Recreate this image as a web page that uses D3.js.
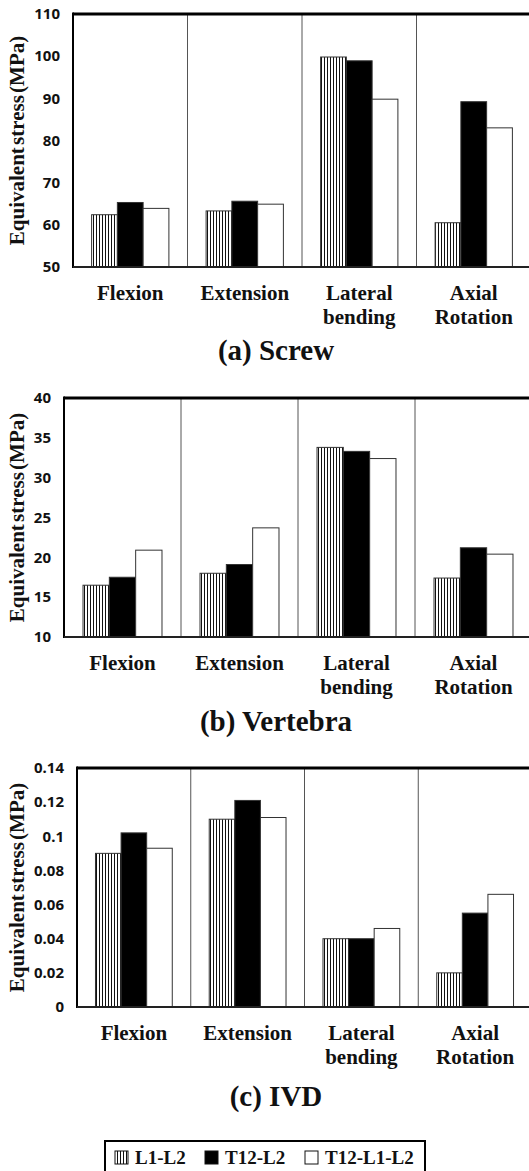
<!DOCTYPE html>
<html>
<head>
<meta charset="utf-8">
<script src="https://cdn.jsdelivr.net/npm/d3@7"></script>
</head>
<body style="margin:0;background:#fff">
<div id="root"></div>
<script>
// data
const categories = [['Flexion'], ['Extension'], ['Lateral', 'bending'], ['Axial', 'Rotation']]
const seriesNames = ['L1-L2', 'T12-L2', 'T12-L1-L2']

const screwL1L2 = [62.4, 63.3, 99.8, 60.5]
const screwT12L2 = [65.3, 65.6, 98.9, 89.2]
const screwT12L1L2 = [63.9, 64.9, 89.8, 83.0]

const vertL1L2 = [16.5, 18.0, 33.8, 17.4]
const vertT12L2 = [17.5, 19.1, 33.3, 21.2]
const vertT12L1L2 = [20.9, 23.7, 32.4, 20.4]

const ivdL1L2 = [0.090, 0.110, 0.040, 0.020]
const ivdT12L2 = [0.102, 0.121, 0.040, 0.055]
const ivdT12L1L2 = [0.093, 0.111, 0.046, 0.066]

const screwTicks = [50, 60, 70, 80, 90, 100, 110]
const vertTicks = [10, 15, 20, 25, 30, 35, 40]
const ivdTicks = [0, 0.02, 0.04, 0.06, 0.08, 0.1, 0.12, 0.14]

const w = 529
const h = 1171
const SERIF = "'Liberation Serif', 'DejaVu Serif', serif"
const SANS = "'Noto Sans', 'DejaVu Sans', sans-serif"

const panels = [
  { title: '(a) Screw', series: [screwL1L2, screwT12L2, screwT12L1L2], ticks: screwTicks,
    left: 73, right: 531, top: 14, bottom: 267, titleY: 360 },
  { title: '(b) Vertebra', series: [vertL1L2, vertT12L2, vertT12L1L2], ticks: vertTicks,
    left: 64, right: 532, top: 398, bottom: 637, titleY: 731 },
  { title: '(c) IVD', series: [ivdL1L2, ivdT12L2, ivdT12L1L2], ticks: ivdTicks,
    left: 77, right: 532, top: 768, bottom: 1007, titleY: 1106 }
]

const svg = d3.select('#root')
              .append('svg')
              .attr('width', w)
              .attr('height', h)
              .style('display', 'block')

// vertical hatch for L1-L2
const defs = svg.append('defs')
const pat = defs.append('pattern')
                .attr('id', 'vhatch')
                .attr('patternUnits', 'userSpaceOnUse')
                .attr('width', 3)
                .attr('height', 10)
pat.append('rect').attr('width', 3).attr('height', 10).attr('fill', '#fff')
pat.append('line').attr('x1', 0.5).attr('x2', 0.5).attr('y1', 0).attr('y2', 10)
   .attr('stroke', '#111').attr('stroke-width', 1)

const fills = ['url(#vhatch)', '#000', '#fff']

panels.forEach(p => {
  const g = svg.append('g')

  const x = d3.scaleBand()
              .domain(d3.range(categories.length))
              .range([p.left, p.right])

  const bw = x.bandwidth()
  const xs = d3.scaleBand()
               .domain(d3.range(seriesNames.length))
               .range([bw * 0.1625, bw * 0.8375])

  const y = d3.scaleLinear()
              .domain(d3.extent(p.ticks))
              .range([p.bottom, p.top])

  // category dividers
  g.selectAll('.div')
   .data(d3.range(1, categories.length + 1))
   .enter()
   .append('line')
   .attr('x1', d => x(0) + d * bw)
   .attr('x2', d => x(0) + d * bw)
   .attr('y1', p.top)
   .attr('y2', p.bottom)
   .attr('stroke', '#555')
   .attr('stroke-width', 1)

  // bars
  p.series.forEach((vals, si) => {
    g.selectAll('.bar' + si)
     .data(vals)
     .enter()
     .append('rect')
     .attr('x', (d, i) => x(i) + xs(si))
     .attr('y', d => y(d))
     .attr('width', xs.bandwidth())
     .attr('height', d => p.bottom - y(d))
     .attr('fill', fills[si])
     .attr('stroke', '#333')
     .attr('stroke-width', 1)
  })

  // frame: thick top, left and bottom
  g.append('line').attr('x1', p.left).attr('x2', p.right).attr('y1', p.top).attr('y2', p.top)
   .attr('stroke', '#000').attr('stroke-width', 3)
  g.append('line').attr('x1', p.left).attr('x2', p.left).attr('y1', p.top - 1.5).attr('y2', p.bottom + 1)
   .attr('stroke', '#000').attr('stroke-width', 2)
  g.append('line').attr('x1', p.left).attr('x2', p.right).attr('y1', p.bottom).attr('y2', p.bottom)
   .attr('stroke', '#222').attr('stroke-width', 2)

  // y tick labels (no tick marks in the original)
  g.selectAll('.tick-lbl')
   .data(p.ticks)
   .enter()
   .append('text')
   .attr('font-family', SANS)
   .attr('font-weight', 'bold')
   .attr('font-size', 15)
   .attr('x', p.left - 13)
   .attr('y', d => y(d))
   .attr('dy', '0.35em')
   .attr('text-anchor', 'end')
   .attr('fill', '#111')
   .text(d => String(+d.toFixed(2)))

  // y axis title
  g.append('text')
   .attr('font-family', SERIF)
   .attr('font-weight', 'bold')
   .attr('transform', 'translate(24,' + ((p.top + p.bottom) / 2) + ') rotate(-90)')
   .attr('text-anchor', 'middle')
   .attr('font-size', 21)
   .attr('word-spacing', -3)
   .attr('fill', '#111')
   .text('Equivalent stress (MPa)')

  // category labels
  categories.forEach((lines, i) => {
    const t = g.append('text')
               .attr('font-family', SERIF)
               .attr('font-weight', 'bold')
               .attr('text-anchor', 'middle')
               .attr('font-size', 21)
               .attr('fill', '#111')
    lines.forEach((ln, j) => {
      t.append('tspan')
       .attr('x', x(i) + bw / 2)
       .attr('y', p.bottom + 33 + j * 24)
       .text(ln)
    })
  })

  // panel title
  g.append('text')
   .attr('font-family', SERIF)
   .attr('font-weight', 'bold')
   .attr('x', 276)
   .attr('y', p.titleY)
   .attr('text-anchor', 'middle')
   .attr('font-size', 29)
   .attr('fill', '#111')
   .text(p.title)
})

// legend
const lg = svg.append('g')
lg.append('rect')
  .attr('x', 105).attr('y', 1141)
  .attr('width', 320).attr('height', 40)
  .attr('fill', '#fff').attr('stroke', '#000').attr('stroke-width', 2)

const legX = [115, 205, 305]
seriesNames.forEach((s, i) => {
  lg.append('rect')
    .attr('x', legX[i]).attr('y', 1151)
    .attr('width', 13).attr('height', 13)
    .attr('fill', fills[i]).attr('stroke', '#111').attr('stroke-width', 1)
  lg.append('text')
    .attr('font-family', SERIF)
    .attr('font-weight', 'bold')
    .attr('x', legX[i] + 20)
    .attr('y', 1164)
    .attr('font-size', 19)
    .attr('fill', '#111')
    .text(s)
})
</script>
</body>
</html>
